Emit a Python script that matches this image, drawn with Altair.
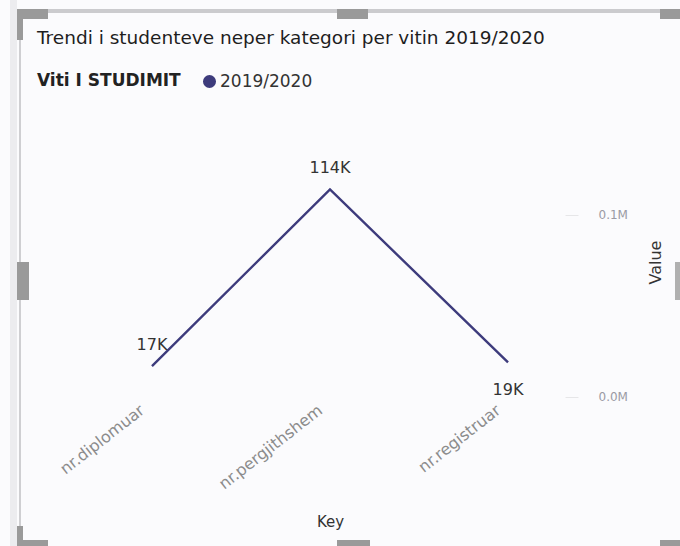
import altair as alt
import pandas as pd

# ---- data ----
keys = ["nr.diplomuar", "nr.pergjithshem", "nr.registruar"]
values = [17000, 114000, 19000]
years = ["2019/2020", "2019/2020", "2019/2020"]

df = pd.DataFrame({"Key": keys, "Value": values, "Viti I STUDIMIT": years})

LINE = "#3d3b7c"
FONT = "DejaVu Sans"
PL, PT = 95, 150  # plot origin in page pixels


def deco(x1, y1, x2, y2, color):
    return alt.Chart(alt.Data(values=[{}])).mark_rect(color=color).encode(
        x=alt.value(x1 - PL), x2=alt.value(x2 - PL),
        y=alt.value(y1 - PT), y2=alt.value(y2 - PT),
    )


frame = [
    deco(10, 0, 17, 546, "#ececef"),
    deco(19, 12, 21, 546, "#cfcfd2"),
    deco(17, 9, 680, 13, "#cbcbce"),
    deco(17, 9, 48, 19, "#9a9a9a"),
    deco(17, 9, 23, 40, "#9a9a9a"),
    deco(337, 9, 368, 19, "#9a9a9a"),
    deco(660, 9, 680, 19, "#9a9a9a"),
    deco(17, 262, 29, 300, "#9a9a9a"),
    deco(675, 262, 680, 300, "#b0b0b0"),
    deco(17, 526, 23, 546, "#9a9a9a"),
    deco(17, 540, 48, 546, "#9a9a9a"),
    deco(337, 540, 370, 546, "#9a9a9a"),
    deco(660, 540, 680, 546, "#9a9a9a"),
]

base = alt.Chart(df).transform_calculate(
    lbl="round(datum.Value / 1000) + 'K'"
).encode(
    x=alt.X(
        "Key:N", sort=keys,
        scale=alt.Scale(type="point", padding=0.32),
        axis=alt.Axis(
            title="Key", labelAngle=-38, labelAlign="right", labelBaseline="middle",
            ticks=False, domain=False, grid=False, labelPadding=8, labelOffset=-10,
            labelColor="#8c8c8c", labelFontSize=16, labelFont=FONT,
            titleFont=FONT, titleFontSize=15, titleColor="#333333", titleFontWeight="normal",
            titleY=121, titleBaseline="middle",
        ),
    ),
    y=alt.Y(
        "Value:Q",
        scale=alt.Scale(domain=[-1650, 135700], nice=False, zero=False),
        axis=alt.Axis(
            orient="right", values=[0, 100000],
            labelExpr="format(datum.value / 1000000, '.1f') + 'M'",
            grid=False, domain=False, tickSize=13, tickColor="#e6e6e8",
            labelPadding=20, labelColor="#9a9aa4", labelFontSize=12, labelFont=FONT,
            title="Value", titleAngle=270, titleX=90, titleY=112,
            titleAlign="center", titleBaseline="middle",
            titleFont=FONT, titleFontSize=16, titleColor="#333333", titleFontWeight="normal",
        ),
    ),
)

line = base.mark_line(strokeWidth=2.4).encode(
    color=alt.Color(
        "Viti I STUDIMIT:N",
        scale=alt.Scale(domain=["2019/2020"], range=[LINE]),
        legend=alt.Legend(
            orient="none", legendX=-58, legendY=-77, direction="horizontal",
            titleOrient="left", symbolType="circle", symbolFillColor=LINE,
            symbolStrokeWidth=0, symbolSize=170, symbolOpacity=1,
            titleFont=FONT, titleFontSize=17, titleFontWeight="bold", titleColor="#222222",
            labelFont=FONT, labelFontSize=17, labelColor="#333333",
            titlePadding=20, padding=0, labelOffset=2,
        ),
    )
)

lab_above = base.transform_filter("datum.Key != 'nr.registruar'").mark_text(
    dy=-21, font=FONT, fontSize=16, color="#333333"
).encode(text="lbl:N")

lab_below = base.transform_filter("datum.Key == 'nr.registruar'").mark_text(
    dy=28, font=FONT, fontSize=16, color="#333333"
).encode(text="lbl:N")

chart = alt.layer(*frame, line, lab_above, lab_below).properties(
    width=470, height=250,
    autosize=alt.AutoSizeParams(type="none"),
    padding={"left": PL, "top": PT, "right": 680 - PL - 470, "bottom": 546 - PT - 250},
    background="#fbfbfd",
    title=alt.TitleParams(
        "Trendi i studenteve neper kategori per vitin 2019/2020",
        anchor="start", frame="group", dx=-58, offset=0, dy=47,
        font=FONT, fontSize=18.5, fontWeight="normal", color="#1e1e1e",
    ),
).configure_view(stroke=None)

chart.save("out.html", embed_options={"renderer": "svg", "actions": False})
